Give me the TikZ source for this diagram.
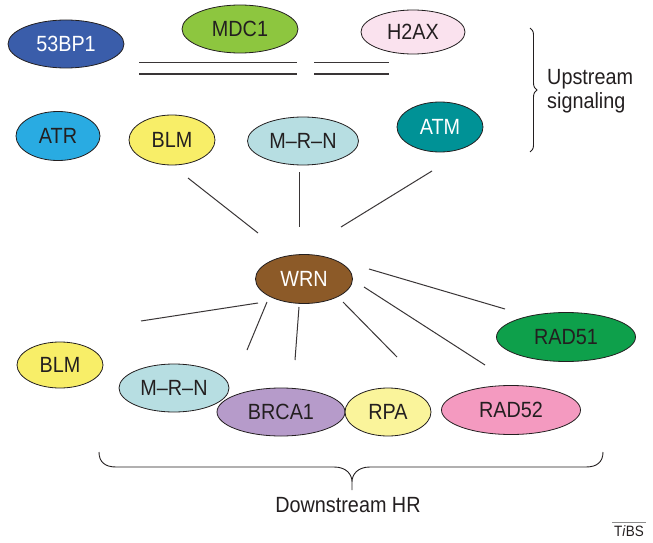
\documentclass[tikz,border=0pt]{standalone}
\usepackage{fontspec}
\setmainfont{Liberation Sans}
\newfontfamily\condfont{Liberation Sans}[FakeStretch=0.9,Ligatures=TeX]
\usetikzlibrary{shapes.geometric,decorations.pathreplacing}
\definecolor{c53}{RGB}{58,93,170}
\definecolor{cMDC}{RGB}{141,198,63}
\definecolor{cHAX}{RGB}{250,226,238}
\definecolor{cATR}{RGB}{41,171,226}
\definecolor{cBLM}{RGB}{248,238,104}
\definecolor{cMRN}{RGB}{183,222,226}
\definecolor{cATM}{RGB}{0,146,150}
\definecolor{cWRN}{RGB}{140,90,40}
\definecolor{cRADa}{RGB}{14,160,75}
\definecolor{cBRCA}{RGB}{182,155,202}
\definecolor{cRPA}{RGB}{250,244,155}
\definecolor{cRADb}{RGB}{244,154,192}
\definecolor{txt}{RGB}{35,31,32}
\begin{document}
\begin{tikzpicture}[x=1pt,y=-1pt,
  prot/.style={ellipse, draw=txt, line width=0.8pt, inner sep=0pt,
    font=\condfont\fontsize{22}{24}\selectfont, text=txt},
  link/.style={line width=1pt, draw=txt!90},
  lbl/.style={font=\condfont\fontsize{22}{24}\selectfont, text=txt, inner sep=0pt}]
\useasboundingbox (0,0) rectangle (653,543);
% upstream
\node[prot, fill=c53, text=white, minimum width=116pt, minimum height=48pt] (p53) at (66,44) {53BP1};
\node[prot, fill=cMDC, minimum width=116pt, minimum height=48pt] (mdc) at (240,29) {MDC1};
\node[prot, fill=cHAX, minimum width=104pt, minimum height=44pt] (hax) at (413,32) {H2AX};
\node[prot, fill=cATR, minimum width=84pt, minimum height=49pt] (atr) at (58,136) {ATR};
\node[prot, fill=cBLM, minimum width=86pt, minimum height=50pt] (blmu) at (172,140) {BLM};
\node[prot, fill=cMRN, minimum width=111pt, minimum height=48pt] (mrnu) at (303,141) {M–R–N};
\node[prot, fill=cATM, text=white, minimum width=86pt, minimum height=50pt] (atm) at (440,127) {ATM};
% central
\node[prot, fill=cWRN, text=white, minimum width=97pt, minimum height=49pt] (wrn) at (304,279) {WRN};
% downstream
\node[prot, fill=cRADa, minimum width=139pt, minimum height=49pt] (rada) at (566,337) {RAD51};
\node[prot, fill=cBLM, minimum width=86pt, minimum height=46pt] (blmd) at (60,365) {BLM};
\node[prot, fill=cBRCA, minimum width=128pt, minimum height=48pt] (brca) at (281,412) {BRCA1};
\node[prot, fill=cMRN, minimum width=110pt, minimum height=48pt] (mrnd) at (174,388) {M–R–N};
\node[prot, fill=cRPA, minimum width=86pt, minimum height=48pt] (rpa) at (388,412) {RPA};
\node[prot, fill=cRADb, minimum width=139pt, minimum height=49pt] (radb) at (511,410) {RAD52};
% double strands
\draw[link] (139,63) -- (297,63) (139,74) -- (297,74);
\draw[link] (314,63) -- (389,63) (314,74) -- (389,74);
% connectors (free ends as named coordinates)
\coordinate (u1a) at (188,178); \coordinate (u1b) at (258,233);
\coordinate (u2a) at (299,172); \coordinate (u2b) at (299,227);
\coordinate (u3a) at (432,171); \coordinate (u3b) at (341,227);
\draw[link] (u1a) -- (u1b);
\draw[link] (u2a) -- (u2b);
\draw[link] (u3a) -- (u3b);
\coordinate (d1a) at (258,303); \coordinate (d1b) at (141,321);
\coordinate (d2a) at (267,302); \coordinate (d2b) at (247,350);
\coordinate (d3a) at (299,307); \coordinate (d3b) at (295,360);
\coordinate (d4a) at (343,302); \coordinate (d4b) at (397,357);
\coordinate (d5a) at (364,287); \coordinate (d5b) at (485,365);
\coordinate (d6a) at (369,269); \coordinate (d6b) at (505,309);
\draw[link] (d1a) -- (d1b);
\draw[link] (d2a) -- (d2b);
\draw[link] (d3a) -- (d3b);
\draw[link] (d4a) -- (d4b);
\draw[link] (d5a) -- (d5b);
\draw[link] (d6a) -- (d6b);
% right brace
\draw[line width=0.9pt, draw=txt, decorate, decoration={brace, amplitude=7pt}] (530,28) -- (530,152);
\node[lbl, anchor=west, align=left] (up) at (547,91) {Upstream\\signaling};
% bottom brace
\draw[line width=0.9pt, draw=txt] (99,452) .. controls (99,462) and (105,467) .. (116,467)
  -- (334,467) .. controls (346,467) and (352,474) .. (352,482) -- (352,490)
  (352,482) .. controls (352,474) and (358,467) .. (370,467)
  -- (586,467) .. controls (597,467) and (603,462) .. (603,452);
\node[lbl] (down) at (348,505) {Downstream HR};
% journal mark
\node[font=\condfont\fontsize{15}{17}\selectfont, text=txt, inner sep=0pt] (tibs) at (629,531) {T\textit{i}BS};
\draw[line width=0.8pt, draw=black!45] (612,522) -- (646,522);
\end{tikzpicture}
\end{document}
